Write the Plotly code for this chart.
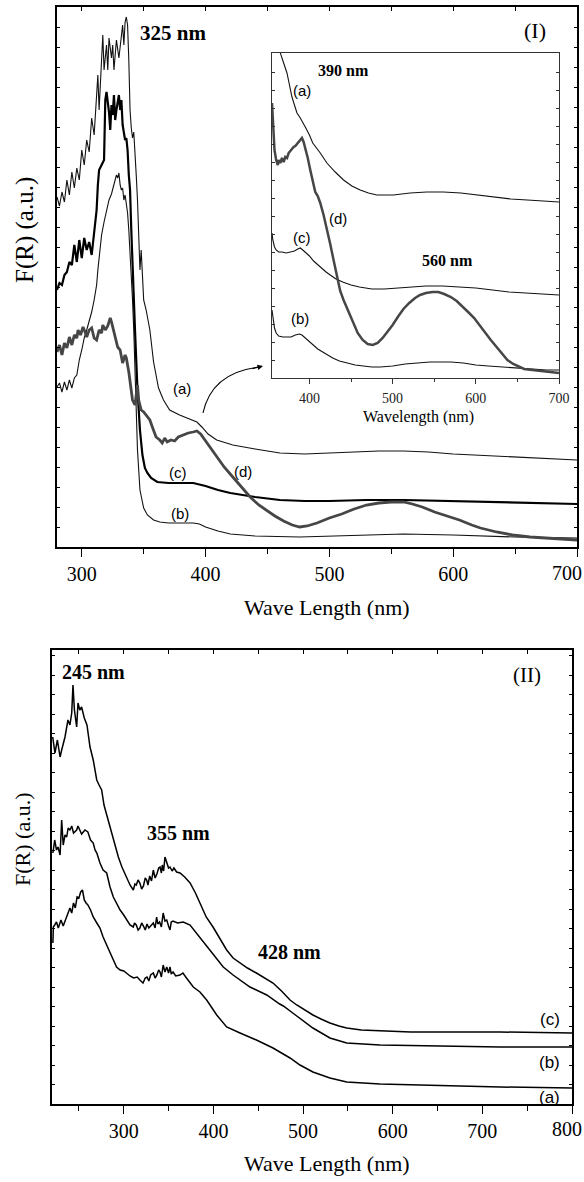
import plotly.graph_objects as go

SERIF = "'Liberation Serif', 'Times New Roman', Times, serif"
SANS = "'Liberation Sans', Arial, Helvetica, sans-serif"

# ---------------- Panel (I): main spectra (wavelength nm, F(R) a.u.) ----------------
top_a = [(280,350),(282,341),(284,355),(286,345),(288,367),(290,352),(292,375),(294,359),(296,379),
         (298,367),(300,397),(302,382),(304,407),(306,395),(308,429),(310,412),(312,452),(313,472),
         (314,437),(316,487),(317,512),(318,477),(320,502),(321,477),(322,509),(324,489),(325,502),
         (326,477),(328,507),(330,489),(332,512),(333,522),(334,502),(335,525),(336,530),(337,522),
         (338,487),(339,437),(340,419),(341,409),(342,415),(343,397),(344,372),(345,347),(346,307),
         (347,277),(348,297),(349,262),(350,247),(352,237),(355,217),(358,185),(362,159),(366,147),
         (371,137),(379,132),(387,128),(393,125),(397,120),(402,113),(409,107),(422,102),(440,98),
         (460,94),(480,93),(500,94),(520,95),(540,96),(560,96),(580,95),(600,93),(630,91),(660,89),(700,87)]

top_b = [(280,160),(282,164),(284,155),(286,165),(288,157),(290,167),(292,159),(294,169),(296,172),
         (298,187),(300,197),(302,209),(304,217),(306,225),(308,235),(310,247),(312,262),(313,277),
         (314,289),(315,302),(316,312),(318,325),(320,337),(322,347),(324,353),(326,362),(327,367),
         (328,372),(329,369),(330,374),(331,362),(332,357),(333,359),(334,347),(335,352),(336,342),
         (337,334),(338,317),(339,297),(340,277),(341,247),(342,217),(343,177),(344,137),(345,97),
         (347,57),(350,39),(353,32),(358,27),(363,25),(370,24),(390,24),(395,23),(400,20),(410,16),
         (420,13),(440,11),(476,10),(500,11),(540,12),(560,13),(600,12),(650,10),(700,9)]

top_c = [(280,257),(282,264),(284,262),(286,272),(288,275),(290,285),(292,282),(294,302),(296,285),
         (298,307),(300,289),(302,309),(304,297),(306,305),(308,292),(310,315),(312,337),(313,362),
         (314,377),(316,382),(318,387),(319,447),(320,455),(322,435),(323,417),(324,442),(325,432),
         (326,452),(327,427),(328,437),(330,452),(331,437),(332,447),(333,422),(334,412),(335,407),
         (336,409),(337,397),(338,372),(339,357),(340,317),(341,277),(342,247),(343,217),(344,187),
         (345,157),(347,117),(349,92),(351,79),(353,74),(356,69),(361,65),(370,64),(380,64),(390,64),
         (400,61),(410,57),(420,54),(440,50),(460,47),(480,46),(500,46),(530,47),(560,47),(600,46),
         (650,44),(700,43)]

top_d = [(280,195),(282,202),(284,192),(286,204),(288,199),(290,210),(292,202),(294,212),(296,209),
         (297,217),(299,212),(301,220),(303,214),(304,210),(306,217),(308,219),(310,209),(312,207),
         (314,217),(316,214),(317,222),(319,217),(321,221),(323,229),(324,225),(325,220),(327,207),
         (329,200),(331,197),(333,184),(335,192),(336,189),(338,175),(339,167),(341,147),(343,142),
         (344,152),(345,162),(346,147),(348,137),(350,135),(352,132),(355,127),(357,120),(360,110),
         (363,107),(365,104),(367,109),(369,105),(372,107),(375,106),(378,110),(382,112),(386,114),
         (390,115),(393,116),(396,113),(400,106),(405,97),(410,89),(415,80),(422,70),(430,59),
         (436,50),(443,42),(450,36),(456,31),(463,26),(470,22),(476,20),(482,21),(490,24),(500,29),
         (510,33),(520,38),(530,42),(540,44),(550,45),(560,45),(567,43),(575,40),(585,35),(595,31),
         (605,27),(615,22),(622,19),(635,15),(648,12),(662,10),(676,9),(690,8),(700,7)]

# ---------------- Inset of panel (I) ----------------
ins_a = [(360,358),(365,325),(369,315),(373,305),(376,293),(379,281),(382,273),(385,265),(389,260),
         (392,256),(395,251),(400,243),(404,235),(413,225),(421,215),(431,206),(441,198),(451,192),
         (461,188),(471,185),(481,183),(501,183),(521,185),(541,186),(561,186),(582,185),(602,183),
         (622,181),(642,179),(662,178),(680,177),(700,176)]

ins_b = [(355,68),(356,60),(358,50),(360,45),(363,42),(368,41),(378,41),(383,43),(388,44),(391,43),
         (395,40),(400,36),(405,32),(410,29),(416,26),(422,23),(428,20),(436,17),(445,15),(455,13),
         (465,12),(475,11),(485,11),(500,12),(515,14),(530,15),(545,16),(557,16),(570,16),(585,15),
         (600,13),(615,12),(630,11),(650,10),(670,9),(685,8),(700,8)]

ins_c = [(355,145),(356,138),(358,131),(360,128),(363,126),(367,126),(372,125),(377,126),(382,127),
         (386,129),(389,130),(392,128),(396,125),(400,122),(405,117),(410,113),(415,109),(420,106),
         (425,103),(432,99),(440,96),(450,93),(460,91),(475,89),(490,89),(505,90),(520,91),(540,92),
         (560,92),(580,91),(600,90),(620,88),(640,86),(660,85),(680,84),(700,83)]

ins_d = [(355,275),(356,263),(357,243),(358,228),(360,218),(362,213),(363,218),(365,215),(367,220),
         (369,216),(371,221),(373,220),(375,225),(377,227),(379,230),(381,231),(383,232),(385,234),
         (387,237),(389,239),(391,240),(393,236),(395,230),(398,220),(401,208),(404,196),(407,186),
         (410,182),(413,175),(417,163),(421,150),(425,134),(429,118),(433,102),(437,87),(441,78),
         (446,68),(452,56),(458,45),(464,38),(470,34),(476,33),(482,35),(488,40),(493,45),(500,53),
         (507,62),(513,69),(520,75),(527,80),(533,83),(540,85),(548,86),(555,86),(562,84),(570,81),
         (577,77),(585,71),(592,65),(598,60),(605,52),(612,44),(618,38),(625,31),(632,24),(638,18),
         (645,14),(652,11),(658,9),(668,8),(678,7),(690,6),(700,5)]

# ---------------- Panel (II) ----------------
bot_a = [(221,161),(221.5,177),(223,179),(225,182),(227,176),(230,184),(232.5,178),(236,187),(240,196),
         (242,191),(244,201),(246,196),(248,207),(250,206),(252,212),(254,214),(256,204),(258,201),
         (260,199),(263,194),(266,187),(270,181),(273.5,176),(277,167),(281,159),(284.7,151),
         (288.4,144),(292,137),(296,134),(300,133),(303,131),(307,128),(311,126),(315,127),(318,124),
         (321.5,121),(324,126),(326,127),(328,123),(330,129),(333,131),(335,126),(337,129),(339,134),
         (340.5,132),(342,127),(344,139),(346,132),(348,137),(350,131),(351.6,137),(353,130),(355,132),
         (358,128),(362.8,129),(366,131),(370,126),(377.6,117),(385,112),(392.5,104),(403.7,89),
         (414.8,77),(429.7,71),(448,64),(466.5,56),(485.5,46),(496.6,39),(511,32),(530,26),(548.7,22),
         (585.8,20),(660,18),(720,17),(800,16)]

bot_b = [(221,251),(223,264),(225,254),(226.7,257),(229,249),(230.8,284),(232.5,259),(234.5,269),
         (236.4,267),(238,276),(240,274),(242,278),(244,271),(247.5,274),(249,278),(251,274),(253,270),
         (256.8,274),(260,272),(263,264),(266,261),(268,254),(270,251),(273.5,241),(277,234),(281,231),
         (284.7,217),(288.4,207),(292,201),(296,194),(300,189),(303.3,184),(307,179),(310.7,177),
         (312,181),(314,179),(316,174),(318,176),(320,181),(322,178),(324,174),(326,180),(328,176),
         (330,178),(333,181),(335,176),(336.7,187),(338,180),(340,182),(342,177),(344,191),(346,183),
         (348,184),(350,178),(351.6,174),(353,182),(355,183),(360,181),(366.4,182),(374,179),(385,167),
         (396,154),(411,137),(422,129),(440.8,117),(459.5,109),(474,100),(478,98),(493,88),(511,76),
         (530,66),(548.7,61),(585.8,59),(650,58),(720,57),(800,57)]

bot_c = [(220.8,367),(223.3,351),(226,364),(229,347),(230.8,354),(234.5,367),(237.8,384),(240,379),
         (242,391),(243.4,419),(245,394),(247.5,377),(249,401),(251,394),(253,397),(256,386),(259,379),
         (262.4,357),(266,344),(269.9,324),(272.5,319),(275.4,314),(278,299),(281,289),(284,279),
         (286.6,271),(290,259),(294,247),(298,237),(303.3,227),(307,219),(310.7,214),(312.5,220),
         (314,219),(316,224),(318,221),(320,215),(322,218),(324,226),(325.6,224),(327,219),(329,228),
         (331,223),(333,234),(335,226),(337,230),(339,236),(340.5,237),(342,231),(343,239),(344.5,233),
         (346,247),(348,241),(350,236),(351.6,237),(354,233),(356,236),(359,232),(362.8,231),(368,227),
         (374,221),(380,211),(385,201),(392,187),(399.6,177),(407,166),(414.8,154),(422,146),
         (429.7,141),(438,136),(448,131),(457,126),(466.5,121),(476,113),(485.5,104),(493,99),(502,94),
         (511,89),(520,85),(530,81),(540,78),(548.7,76),(565,74),(585.8,73),(620,72),(660,72),(720,72),
         (800,71)]

# tick labels of the two main wavelength axes
top_ticks_nm = [300, 400, 500, 600, 700]
bot_ticks_nm = [300, 400, 500, 600, 700, 800]


def xy(pairs):
    xs, ys = zip(*pairs)
    return list(xs), list(ys)


fig = go.Figure()


def add(pairs, xa, ya, color="black", width=1.1):
    xs, ys = xy(pairs)
    fig.add_trace(go.Scatter(x=xs, y=ys, mode="lines", xaxis=xa, yaxis=ya,
                             line=dict(color=color, width=width), showlegend=False,
                             hoverinfo="skip"))


# panel I
add(top_a, "x", "y", "#111111", 1.1)
add(top_b, "x", "y", "#111111", 1.1)
add(top_c, "x", "y", "black", 2.2)
add(top_d, "x", "y", "#464646", 2.8)
# inset
add(ins_a, "x2", "y2", "#111111", 1.1)
add(ins_b, "x2", "y2", "#111111", 1.1)
add(ins_c, "x2", "y2", "#111111", 1.1)
add(ins_d, "x2", "y2", "#464646", 2.5)
# panel II
add(bot_a, "x3", "y3", "black", 1.5)
add(bot_b, "x3", "y3", "black", 1.5)
add(bot_c, "x3", "y3", "black", 1.5)

# invisible traces so the top-side tick axes are drawn
for xa, ya, pairs in (("x4", "y", top_a), ("x5", "y3", bot_a)):
    xs, ys = xy(pairs)
    fig.add_trace(go.Scatter(x=xs, y=ys, mode="lines", xaxis=xa, yaxis=ya,
                             line=dict(color="rgba(0,0,0,0)", width=0), showlegend=False,
                             hoverinfo="skip"))

W, H = 584, 1182


def dom_x(a, b):
    return [a / W, b / W]


def dom_y(top, bottom):
    return [1 - bottom / H, 1 - top / H]


tickfont = dict(family=SERIF, size=20, color="black")


def tick_text(vals):
    # last label sits on the page edge; it is drawn as an annotation instead
    return [str(v) for v in vals[:-1]] + [""]


main_x = dict(showgrid=False, zeroline=False, showline=True, linecolor="black", linewidth=1.8,
              mirror=True, ticks="outside", ticklen=8, tickwidth=1.4, tickcolor="black",
              tickfont=tickfont, ticklabelstandoff=0, automargin=False,
              ticklabeloverflow="allow",
              minor=dict(ticks="outside", ticklen=5, tickwidth=1.2, tickcolor="black", dtick=50,
                         showgrid=False))
main_y = dict(showgrid=False, zeroline=False, showline=True, linecolor="black", linewidth=1.8,
              mirror="ticks", ticks="inside", ticklen=3, tickwidth=1, tickcolor="black",
              showticklabels=False, automargin=False)
top_ticks = dict(showgrid=False, zeroline=False, showline=False, ticks="inside", ticklen=4,
                 tickwidth=1, tickcolor="black", dtick=50, showticklabels=False, side="top",
                 automargin=False)

fig.update_layout(
    width=W, height=H, margin=dict(l=0, r=0, t=0, b=0, autoexpand=False),
    font=dict(family=SERIF, color="black"),
    paper_bgcolor="white", plot_bgcolor="rgba(0,0,0,0)", showlegend=False,
    xaxis=dict(main_x, domain=dom_x(57, 577), anchor="y", range=[280, 700],
               tickmode="array", tickvals=top_ticks_nm, ticktext=tick_text(top_ticks_nm)),
    yaxis=dict(main_y, domain=dom_y(7, 547), anchor="x", range=[0, 540], dtick=20, tick0=0),
    xaxis4=dict(top_ticks, overlaying="x", anchor="y", range=[280, 700], tick0=300),
    xaxis2=dict(showgrid=False, zeroline=False, showline=True, linecolor="#333333", linewidth=1.1,
                mirror=True, ticks="outside", ticklen=5, tickwidth=1, tickcolor="#333333",
                domain=dom_x(272, 559), anchor="y2", range=[355, 700], dtick=100, tick0=400,
                tickfont=dict(family=SERIF, size=14, color="#222222"), ticklabelstandoff=2,
                automargin=False, ticklabeloverflow="allow",
                minor=dict(ticks="outside", ticklen=3, tickwidth=1, tickcolor="#333333", dtick=50,
                           showgrid=False)),
    yaxis2=dict(showgrid=False, zeroline=False, showline=True, linecolor="#333333", linewidth=1.1,
                mirror="ticks", ticks="inside", ticklen=2.5, tickwidth=0.8, tickcolor="#333333",
                showticklabels=False, domain=dom_y(53, 378), anchor="x2", range=[0, 325], dtick=18,
                automargin=False),
    xaxis3=dict(main_x, domain=dom_x(52, 572), anchor="y3", range=[220, 800],
                tickmode="array", tickvals=bot_ticks_nm, ticktext=tick_text(bot_ticks_nm)),
    yaxis3=dict(main_y, domain=dom_y(650, 1104), anchor="x3", range=[0, 454], dtick=19.5, tick0=0),
    xaxis5=dict(top_ticks, overlaying="x3", anchor="y3", range=[220, 800], tick0=300),
)

ann = []


def label(text, x, y, xr, yr, size, family=SERIF, bold=False, xanchor="center", **kw):
    t = f"<b>{text}</b>" if bold else text
    ann.append(dict(text=t, x=x, y=y, xref=xr, yref=yr, showarrow=False,
                    font=dict(family=family, size=size, color="black"),
                    xanchor=xanchor, yanchor="middle", **kw))


# panel I labels
label("325 nm", 373.7, 514, "x", "y", 21, bold=True)
label("(I)", 666, 517, "x", "y", 22)
label("(a)", 381, 159, "x", "y", 15, SANS)
label("(c)", 377.7, 75, "x", "y", 15, SANS)
label("(b)", 379, 34, "x", "y", 15, SANS)
label("(d)", 430, 76, "x", "y", 15, SANS)
# inset labels
label("390 nm", 440.5, 308, "x2", "y2", 16, bold=True)
label("(a)", 391, 288, "x2", "y2", 15, SANS)
label("(d)", 434.5, 160, "x2", "y2", 15, SANS)
label("(c)", 391, 141, "x2", "y2", 15, SANS)
label("560 nm", 566, 118, "x2", "y2", 16, bold=True)
label("(b)", 388.7, 60, "x2", "y2", 15, SANS)
# panel II labels
label("245 nm", 266.8, 432, "x3", "y3", 20, bold=True)
label("355 nm", 361.6, 271, "x3", "y3", 20, bold=True)
label("428 nm", 485.4, 152, "x3", "y3", 20, bold=True)
label("(II)", 749.8, 429, "x3", "y3", 21)
label("(c)", 775.4, 84, "x3", "y3", 17, SANS)
label("(b)", 775.4, 42, "x3", "y3", 17, SANS)
label("(a)", 775.4, 7, "x3", "y3", 17, SANS)

# last tick labels, kept inside the page
label(str(top_ticks_nm[-1]), 1.0, 1 - 573 / H, "paper", "paper", 20, xanchor="right")
label(str(bot_ticks_nm[-1]), 1.0, 1 - 1129 / H, "paper", "paper", 20, xanchor="right")

# axis titles
label("Wave Length (nm)", 327 / W, 1 - 608 / H, "paper", "paper", 22)
label("Wave Length (nm)", 327 / W, 1 - 1163 / H, "paper", "paper", 22)
label("Wavelength (nm)", 418 / W, 1 - 417 / H, "paper", "paper", 16)
label("F(R) (a.u.)", 25 / W, 1 - 230 / H, "paper", "paper", 25, textangle=-90)
label("F(R) (a.u.)", 22 / W, 1 - 840 / H, "paper", "paper", 22, textangle=-90)

# arrow head pointing to the inset
ann.append(dict(text="", x=446.4, y=181, xref="x", yref="y", showarrow=True, ax=-12, ay=3,
                arrowhead=2, arrowsize=1, arrowwidth=1.1, arrowcolor="black"))

fig.update_layout(annotations=ann)

# curved arrow shaft
fig.add_shape(type="path", path="M 397.9,134 Q 405.2,175 444,180", xref="x", yref="y",
              line=dict(color="black", width=1.1))

fig.write_html("out.html")
